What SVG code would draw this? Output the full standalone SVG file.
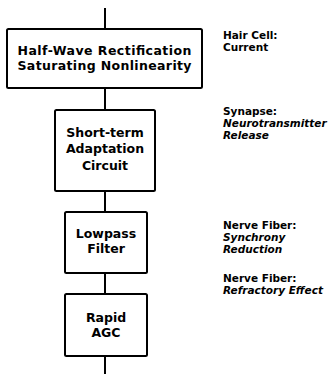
<svg xmlns="http://www.w3.org/2000/svg" width="333" height="377" viewBox="0 0 333 377">
<style>
.box{fill:#fff;stroke:#000;stroke-width:2}
.conn{stroke:#000;stroke-width:2;fill:none}
.bt{font-family:"DejaVu Sans",sans-serif;font-weight:bold;font-size:12.5px;text-anchor:middle;fill:#000}
.lb{font-family:"DejaVu Sans",sans-serif;font-weight:bold;font-size:10.5px;fill:#000}
.it{font-style:italic}
</style>
<rect width="333" height="377" fill="#fff"/>
<g id="connectors">
<line class="conn" x1="105" y1="8" x2="105" y2="29"/>
<line class="conn" x1="105" y1="88" x2="105" y2="110"/>
<line class="conn" x1="105" y1="191" x2="105" y2="212"/>
<line class="conn" x1="105" y1="273" x2="105" y2="294"/>
<line class="conn" x1="105" y1="356" x2="105" y2="374"/>
</g>
<g id="n1">
<rect class="box" x="7" y="29" width="195" height="59" rx="1.5"/>
<text class="bt" x="104.5" y="55" textLength="174" lengthAdjust="spacing">Half-Wave Rectification</text>
<text class="bt" x="104.5" y="69.5" textLength="174" lengthAdjust="spacing">Saturating Nonlinearity</text>
</g>
<g id="n2">
<rect class="box" x="55" y="110" width="100" height="81" rx="1.5"/>
<text class="bt" x="105" y="136.5">Short-term</text>
<text class="bt" x="105" y="153">Adaptation</text>
<text class="bt" x="105" y="169.5">Circuit</text>
</g>
<g id="n3">
<rect class="box" x="65" y="212" width="82" height="61" rx="1.5"/>
<text class="bt" x="106" y="238">Lowpass</text>
<text class="bt" x="106" y="252.5">Filter</text>
</g>
<g id="n4">
<rect class="box" x="65" y="294" width="82" height="62" rx="1.5"/>
<text class="bt" x="106" y="322">Rapid</text>
<text class="bt" x="106" y="336.5">AGC</text>
</g>
<g id="labels">
<text class="lb" x="223" y="39">Hair Cell:</text>
<text class="lb" x="223" y="51">Current</text>
<text class="lb" x="223" y="115">Synapse:</text>
<text class="lb it" x="223" y="127">Neurotransmitter</text>
<text class="lb it" x="223" y="139">Release</text>
<text class="lb" x="223" y="229">Nerve Fiber:</text>
<text class="lb it" x="223" y="241">Synchrony</text>
<text class="lb it" x="223" y="253">Reduction</text>
<text class="lb" x="223" y="282">Nerve Fiber:</text>
<text class="lb it" x="223" y="294">Refractory Effect</text>
</g>
</svg>
